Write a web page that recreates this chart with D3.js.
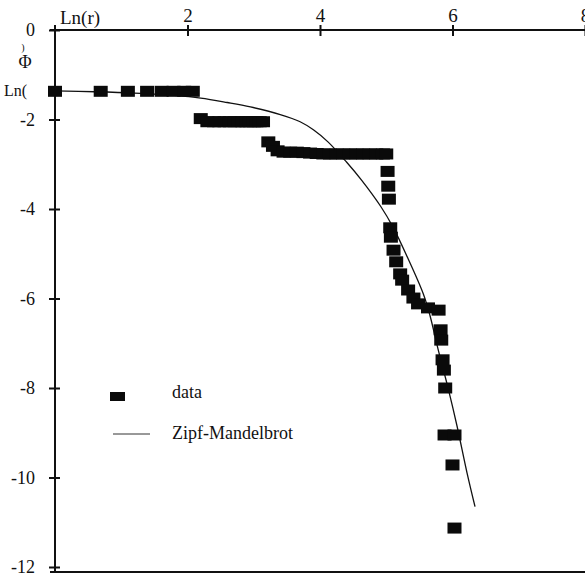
<!DOCTYPE html>
<html lang="en">
<head>
    <meta charset="UTF-8">
    <title>Ln(r) vs Ln(phi) - Zipf-Mandelbrot</title>
    <script src="https://d3js.org/d3.v7.min.js"></script>
    <style>
        body {
            margin: 0;
            background: #fff;
        }
        text {
            font-family: "Liberation Serif", "Times New Roman", Times, "DejaVu Serif", serif;
        }
        .axis path, .axis line {
            stroke: #111;
            stroke-width: 2;
        }
    </style>
</head>
<body>
    <svg id="chart"></svg>

    <script>
        // ranked data, x = ln(rank), y = ln(frequency)
        const dataX = [
            0, 0.69, 1.10, 1.39, 1.61, 1.79, 1.95, 2.08,
            2.20, 2.30, 2.40, 2.48, 2.56, 2.64, 2.71, 2.77, 2.83, 2.89, 2.94, 3.00, 3.04, 3.09, 3.14,
            3.22, 3.29, 3.36, 3.45, 3.55, 3.65, 3.75, 3.85, 3.95, 4.05, 4.15, 4.25, 4.35, 4.45,
            4.55, 4.65, 4.75, 4.85, 4.95, 5.00,
            5.02, 5.03, 5.04, 5.06, 5.07, 5.11, 5.15, 5.21, 5.24, 5.33, 5.41, 5.48, 5.63, 5.79,
            5.82, 5.83, 5.85, 5.87, 5.89, 5.88, 6.03, 6.00, 6.03
        ];
        const dataY = [
            -1.37, -1.37, -1.37, -1.37, -1.37, -1.37, -1.37, -1.37,
            -1.98, -2.05, -2.05, -2.05, -2.05, -2.05, -2.05, -2.05, -2.05, -2.05, -2.05, -2.05, -2.05, -2.05, -2.05,
            -2.50, -2.60, -2.70, -2.73, -2.73, -2.73, -2.74, -2.75, -2.76, -2.77, -2.77, -2.77, -2.77, -2.77,
            -2.77, -2.77, -2.77, -2.77, -2.77, -2.77,
            -3.16, -3.49, -3.78, -4.42, -4.63, -4.92, -5.18, -5.45, -5.59, -5.81, -5.99, -6.12, -6.21, -6.26,
            -6.70, -6.93, -7.37, -7.60, -8.00, -9.05, -9.05, -9.72, -11.13
        ];

        // fitted Zipf-Mandelbrot curve
        const curveX = [0, 0.6, 1.2, 1.8, 2.2, 2.6, 2.95, 3.4, 3.7, 3.9, 4.12, 4.4, 4.63, 4.92,
                        5.1, 5.32, 5.56, 5.66, 5.78, 5.94, 6.07, 6.22, 6.34];
        const curveY = [-1.36, -1.38, -1.41, -1.46, -1.52, -1.62, -1.72, -1.89, -2.05, -2.23, -2.5, -2.95, -3.36, -3.95,
                        -4.4, -5.08, -5.9, -6.38, -7.12, -8.04, -8.86, -9.9, -10.65];

        const xTicks = [2, 4, 6, 8];
        const yTicks = [0, -2, -4, -6, -8, -10, -12];

        const serif = "Liberation Serif, Times New Roman, Times, DejaVu Serif, serif";

        const W = 585, H = 577;
        const svg = d3.select("#chart").attr("width", W).attr("height", H)
            .attr("font-family", serif);

        const x = d3.scaleLinear().domain([0, 8]).range([55, 585]);
        const y = d3.scaleLinear().domain([0, -12]).range([30, 567]);

        // top x axis
        const xAxis = svg.append("g")
            .attr("class", "axis")
            .attr("transform", `translate(0,${y(0)})`)
            .call(d3.axisTop(x).tickValues(xTicks).tickSize(5).tickPadding(3).tickFormat(d => String(d)));
        xAxis.attr("font-family", serif).attr("font-size", 19);
        xAxis.select(".domain").attr("d", `M${x(0) - 5},0H${W}`);
        xAxis.selectAll(".tick line").attr("y1", 6).attr("y2", -5);
        xAxis.selectAll("text").attr("fill", "#111");

        // left y axis
        const yAxis = svg.append("g")
            .attr("class", "axis")
            .attr("transform", `translate(${x(0)},0)`)
            .call(d3.axisLeft(y).tickValues(yTicks).tickSize(5).tickFormat(d => String(d)));
        yAxis.attr("font-family", serif).attr("font-size", 18);
        yAxis.select(".domain").attr("d", `M0,25V572`);
        yAxis.selectAll(".tick line").attr("x1", 5).attr("x2", -6);
        yAxis.selectAll("text").attr("x", -20).attr("fill", "#111");

        // bottom frame line
        svg.append("line")
            .attr("x1", x(0) - 5).attr("x2", W)
            .attr("y1", 572).attr("y2", 572)
            .attr("stroke", "#111").attr("stroke-width", 2);

        // axis titles
        const title = (tx, ty, size, txt, anchor) => svg.append("text")
            .attr("x", tx).attr("y", ty)
            .attr("text-anchor", anchor || "start")
            .attr("font-family", serif).attr("font-size", size)
            .attr("fill", "#111").text(txt);
        title(60, 24, 19, "Ln(r)");
        title(4, 96, 16, "Ln(");
        title(25, 68, 18, "Φ", "middle");
        title(23, 51, 10, ")", "middle");

        // curve
        const line = d3.line().x(d => x(d[0])).y(d => y(d[1])).curve(d3.curveCatmullRom.alpha(0.5));
        svg.append("path")
            .datum(d3.zip(curveX, curveY))
            .attr("d", line)
            .attr("fill", "none")
            .attr("stroke", "#111")
            .attr("stroke-width", 1.3);

        // data squares
        const sw = 14, sh = 11;
        svg.append("g").selectAll("rect")
            .data(d3.zip(dataX, dataY))
            .join("rect")
            .attr("x", d => x(d[0]) - sw / 2)
            .attr("y", d => y(d[1]) - sh / 2)
            .attr("width", sw)
            .attr("height", sh)
            .attr("fill", "#0a0a0a");

        // legend
        svg.append("rect").attr("x", 110).attr("y", 392).attr("width", 15).attr("height", 9).attr("fill", "#0a0a0a");
        title(172, 398, 18, "data");
        svg.append("line").attr("x1", 113).attr("x2", 150).attr("y1", 434).attr("y2", 434)
            .attr("stroke", "#333").attr("stroke-width", 1);
        title(172, 439, 18, "Zipf-Mandelbrot");
    </script>
</body>
</html>
